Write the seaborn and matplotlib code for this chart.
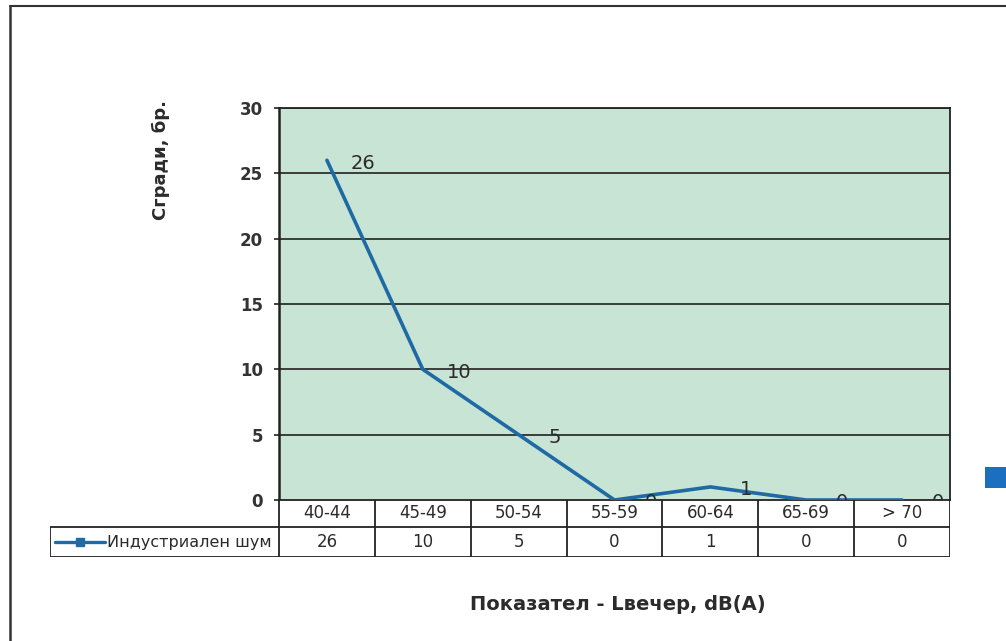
import matplotlib
matplotlib.use("Agg")
import matplotlib.pyplot as plt
import seaborn as sns
import pandas as pd
from matplotlib.lines import Line2D
from matplotlib.patches import Rectangle

categories = ["40-44", "45-49", "50-54", "55-59", "60-64", "65-69", "> 70"]
values = [26, 10, 5, 0, 1, 0, 0]
series_name = "Индустриален шум"
y_ticks = [0, 5, 10, 15, 20, 25, 30]
y_label = "Сгради, бр."
x_label = "Показател - Lвечер, dB(A)"

sns.set_theme(style="white")
plt.rcParams["font.family"] = ["DejaVu Sans"]

W, H = 1006, 641
fig = plt.figure(figsize=(W / 100, H / 100), dpi=100)
fig.patch.set_facecolor("white")

LINE_C = "#1f6aa5"
TXT = "#2b2b2b"
BG = "#c8e4d4"

# main plot area (pixel geometry)
L, R, T, B = 279, 950, 108, 500
ax = fig.add_axes([L / W, 1 - B / H, (R - L) / W, (B - T) / H])
ax.set_facecolor(BG)

df = pd.DataFrame({"idx": range(len(categories)), "val": values})
sns.lineplot(data=df, x="idx", y="val", ax=ax, color=LINE_C, linewidth=2.6,
             clip_on=False, zorder=3)
ax.set_xlim(-0.5, len(categories) - 0.5)
ax.set_ylim(0, 30)
ax.set_yticks(y_ticks)
ax.set_xticks([])
ax.set_xlabel("")
ax.set_ylabel("")
for yv in y_ticks[1:]:
    ax.axhline(yv, color="#222222", lw=1.2, zorder=1)
for s in ax.spines.values():
    s.set_visible(True)
    s.set_color("#222222")
    s.set_linewidth(1.3)
ax.spines["left"].set_linewidth(1.8)
ax.tick_params(axis="y", direction="out", length=3.5, width=1.2, color="#222222",
               labelsize=12, labelcolor="#333333", pad=8, left=True)
for lab in ax.get_yticklabels():
    lab.set_fontweight("bold")

for i, v in enumerate(values):
    ax.annotate(str(v), (i, v), xytext=(26, -2), textcoords="offset points",
                ha="center", va="center", fontsize=14, color=TXT, zorder=4,
                annotation_clip=False)

# data table below the plot
TL, TR, TT, TB = 50, 950, 500, 557
cell = (R - L) / len(categories)
leg_w = (L - TL) / cell
tax = fig.add_axes([TL / W, 1 - TB / H, (TR - TL) / W, (TB - TT) / H])
tax.set_zorder(ax.get_zorder() + 1)
tax.patch.set_alpha(0)
tax.set_xlim(-0.5 - leg_w, len(categories) - 0.5)
tax.set_ylim(0, TB - TT)
tax.axis("off")
mid = TB - 527  # row split (pixels from bottom)
top = TB - TT
tax.add_patch(Rectangle((-0.5, 0), len(categories), top, facecolor="white",
                        edgecolor="none", zorder=1))
tax.add_patch(Rectangle((-0.5 - leg_w, 0), leg_w, mid, facecolor="white",
                        edgecolor="none", zorder=1))
lc = "#222222"
tax.hlines([top], -0.5, len(categories) - 0.5, color=lc, lw=1.3, zorder=2)
tax.hlines([mid, 0], -0.5 - leg_w, len(categories) - 0.5, color=lc, lw=1.3, zorder=2)
tax.vlines([k - 0.5 for k in range(len(categories) + 1)], 0, top, color=lc, lw=1.3, zorder=2)
tax.vlines([-0.5 - leg_w], 0, mid, color=lc, lw=1.3, zorder=2)
for i, (c, v) in enumerate(zip(categories, values)):
    tax.text(i, (mid + top) / 2, c, ha="center", va="center", fontsize=12, color=TXT, zorder=3)
    tax.text(i, mid / 2, str(v), ha="center", va="center", fontsize=12, color=TXT, zorder=3)

def px2u(px):
    return -0.5 - leg_w + (px - TL) / cell

tax.plot([px2u(55), px2u(105)], [mid / 2, mid / 2], color=LINE_C, lw=2.4, zorder=3,
         clip_on=False)
tax.plot([px2u(80)], [mid / 2], marker="s", markersize=6, color=LINE_C, zorder=4,
         clip_on=False)
tax.text(px2u(107), mid / 2, series_name, ha="left", va="center", fontsize=11.5,
         color=TXT, zorder=3)

# axis titles
fig.text(161 / W, 1 - 160 / H, y_label, rotation=90, ha="center", va="center",
         fontsize=13, fontweight="bold", color=TXT)
fig.text(618 / W, 1 - 605 / H, x_label, ha="center", va="center",
         fontsize=14, fontweight="bold", color=TXT)

# outer frame fragments and cut-off legend marker
fig.add_artist(Line2D([10 / W, 10 / W], [0, 1 - 6 / H], color="#333333", lw=1.8))
fig.add_artist(Line2D([10 / W, 1], [1 - 6 / H, 1 - 6 / H], color="#333333", lw=1.5))
fig.add_artist(Rectangle((985 / W, 1 - 488 / H), 21 / W, 21 / H, facecolor="#1a6fc0",
                         edgecolor="none", transform=fig.transFigure))

fig.savefig("out.png", dpi=100, facecolor="white")
